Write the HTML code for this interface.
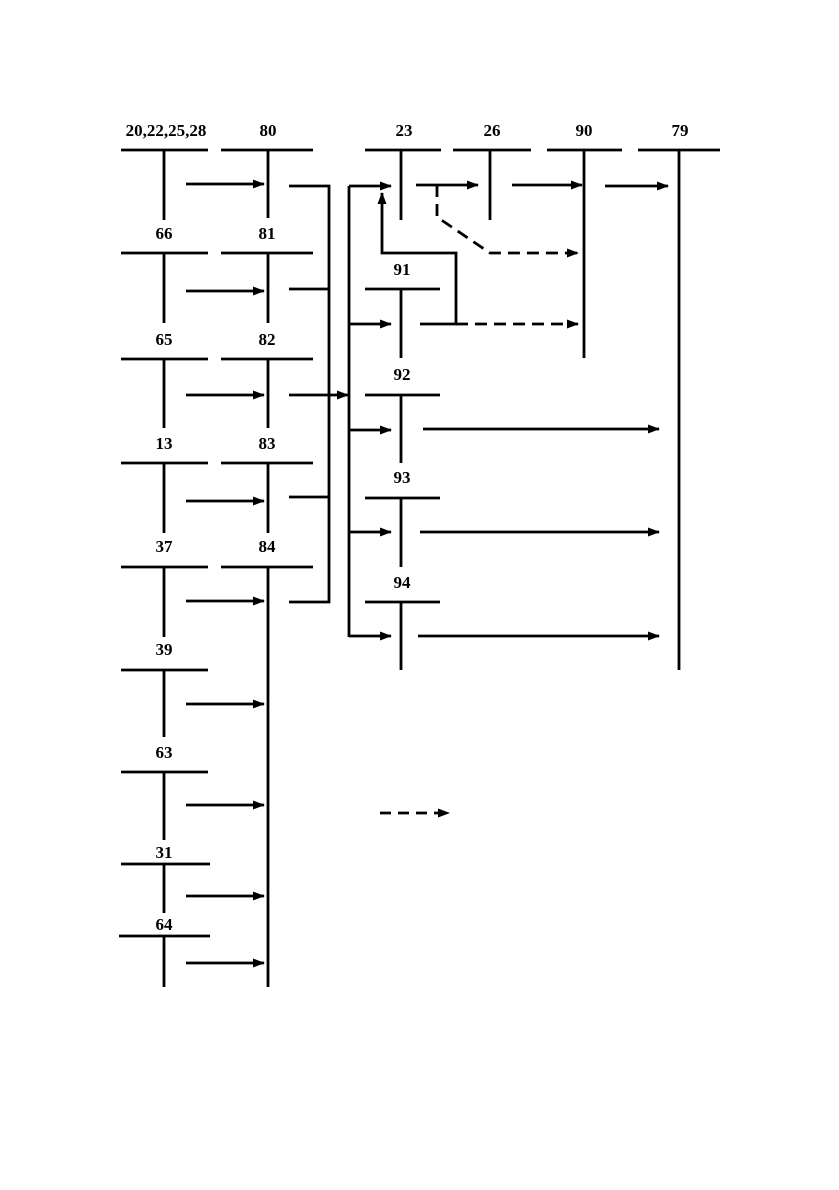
<!DOCTYPE html>
<html><head><meta charset="utf-8"><style>
html,body{margin:0;padding:0;background:#fff;}
svg{display:block}
text{font-family:"Liberation Serif",serif;font-weight:bold;font-size:17px;text-anchor:middle;fill:#000}
</style></head><body>
<svg width="839" height="1190" viewBox="0 0 839 1190" xmlns="http://www.w3.org/2000/svg">
<defs>
<marker id="a" markerWidth="12" markerHeight="10" refX="11" refY="5" orient="auto" markerUnits="userSpaceOnUse">
<path d="M0,0.5 L12,5 L0,9.5 Z" fill="#000"/></marker>
</defs>
<g stroke="#000" stroke-width="2.8" fill="none">
<path d="M121 150H208M164 150V220"/>
<path d="M121 253H208M164 253V323"/>
<path d="M121 359H208M164 359V428"/>
<path d="M121 463H208M164 463V533"/>
<path d="M121 567H208M164 567V637"/>
<path d="M121 670H208M164 670V737"/>
<path d="M121 772H208M164 772V840"/>
<path d="M121 864H210M164 864V913"/>
<path d="M119 936H210M164 936V987"/>
<path d="M221 150H313M268 150V218"/>
<path d="M221 253H313M268 253V323"/>
<path d="M221 359H313M268 359V428"/>
<path d="M221 463H313M268 463V533"/>
<path d="M221 567H313M268 567V987"/>
<g marker-end="url(#a)">
<path d="M186 184H264"/><path d="M186 291H264"/><path d="M186 395H264"/><path d="M186 501H264"/><path d="M186 601H264"/><path d="M186 704H264"/><path d="M186 805H264"/><path d="M186 896H264"/><path d="M186 963H264"/>
</g>
<path d="M289 186H329V602H289M289 289H329M329 497H289"/>
<path d="M289 395H348" marker-end="url(#a)"/>
<path d="M349 186V637"/>
<g marker-end="url(#a)">
<path d="M349 186H391"/><path d="M349 324H391"/><path d="M349 430H391"/><path d="M349 532H391"/><path d="M349 636H391"/>
</g>
<path d="M365 150H441M401 150V220"/>
<path d="M453 150H531M490 150V220"/>
<path d="M547 150H622M584 150V358"/>
<path d="M638 150H720M679 150V670"/>
<g marker-end="url(#a)">
<path d="M416 185H478"/><path d="M512 185H582"/><path d="M605 186H668"/>
</g>
<path d="M437 185V217L490 253H578" stroke-dasharray="12,7" marker-end="url(#a)"/>
<path d="M365 289H440M401 289V358"/>
<path d="M420 324H456V253H382V196" />
<path d="M382 197V193" marker-end="url(#a)"/>
<path d="M456 324H578" stroke-dasharray="12,7" marker-end="url(#a)"/>
<path d="M365 395H440M401 395V463"/>
<path d="M423 429H659" marker-end="url(#a)"/>
<path d="M365 498H440M401 498V567"/>
<path d="M420 532H659" marker-end="url(#a)"/>
<path d="M365 602H440M401 602V670"/>
<path d="M418 636H659" marker-end="url(#a)"/>
<path d="M380 813H449" stroke-dasharray="11,7" marker-end="url(#a)"/>
</g>
<text x="166" y="136">20,22,25,28</text>
<text x="268" y="136">80</text>
<text x="404" y="136">23</text>
<text x="492" y="136">26</text>
<text x="584" y="136">90</text>
<text x="680" y="136">79</text>
<text x="164" y="239">66</text>
<text x="267" y="239">81</text>
<text x="402" y="275">91</text>
<text x="164" y="345">65</text>
<text x="267" y="345">82</text>
<text x="402" y="380">92</text>
<text x="164" y="449">13</text>
<text x="267" y="449">83</text>
<text x="402" y="483">93</text>
<text x="164" y="552">37</text>
<text x="267" y="552">84</text>
<text x="402" y="588">94</text>
<text x="164" y="655">39</text>
<text x="164" y="758">63</text>
<text x="164" y="858">31</text>
<text x="164" y="930">64</text>
</svg>
</body></html>
